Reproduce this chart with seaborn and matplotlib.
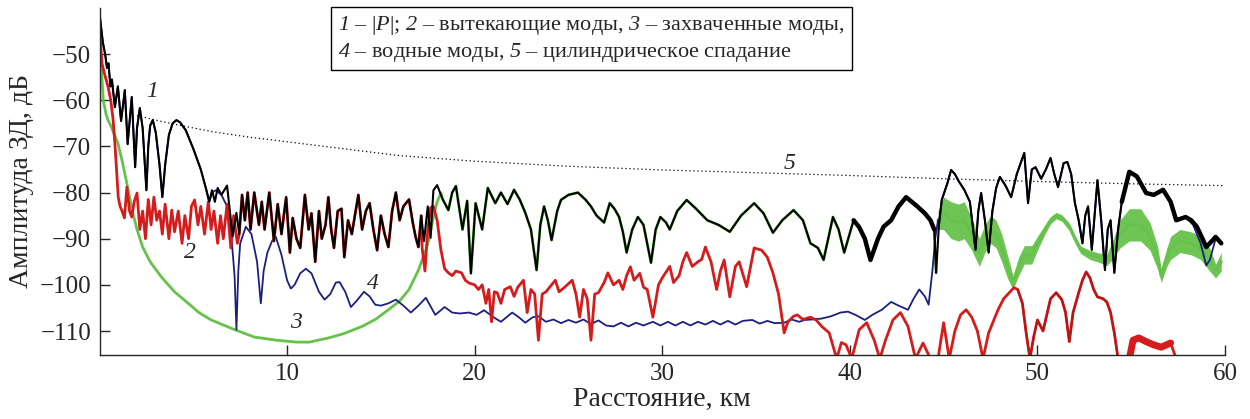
import numpy as np
import pandas as pd
import matplotlib
matplotlib.use("Agg")
import matplotlib.pyplot as plt
import seaborn as sns

# ---------------- data ----------------
# curve 1: |P| (black)
p_km = [0.0, 0.08, 0.18, 0.3, 0.4, 0.48, 0.58, 0.66, 0.82, 0.98, 1.15, 1.35, 1.5, 1.72, 1.9, 2.0, 2.15,
        2.3, 2.5, 2.6, 2.7, 2.84, 3.0, 3.2, 3.35, 3.5, 3.7, 3.9, 4.1, 4.3, 4.6, 5.0, 5.4, 5.7, 5.85,
        6.0, 6.15, 6.3, 6.5, 6.8, 6.95, 7.1, 7.3,
        7.45, 7.6, 7.75, 7.9, 8.05, 8.25, 8.5, 8.65, 8.8, 9.05, 9.3, 9.5, 9.7, 9.95, 10.15, 10.3, 10.5,
        10.7, 10.95, 11.15, 11.3, 11.5, 11.7, 11.85, 12.05, 12.2, 12.35, 12.5, 12.7, 12.9, 13.05, 13.25,
        13.45, 13.8, 14.0, 14.2, 14.4, 14.6, 14.8, 15.0, 15.2, 15.4, 15.6, 15.8, 16.0, 16.2, 16.5, 16.7,
        16.85, 17.0, 17.15, 17.3, 17.5, 17.65, 17.8, 18.0, 18.3, 18.6, 18.8, 19.0, 19.2, 19.35, 19.6,
        19.8, 20.05, 20.4, 20.7, 21.1, 21.4, 21.75, 22.1, 22.4, 22.7, 23.0, 23.3, 23.5, 23.7, 23.9, 24.1,
        24.4, 24.6, 25.0, 25.5, 25.9, 26.2, 26.5, 26.9, 27.2, 27.45, 27.7, 27.9, 28.1, 28.4, 28.7, 29.0,
        29.4, 29.65, 29.9, 30.2, 30.4, 30.8, 31.3, 31.8, 32.4, 33.0, 33.6, 34.2, 34.9, 35.4, 35.9, 36.4,
        37.0, 37.5, 37.9, 38.3, 38.6, 38.9, 39.1, 39.4, 39.7, 40.2, 40.5, 40.8, 41.1, 41.5, 41.8, 42.2,
        42.6, 43.0, 43.3, 43.6, 44.0, 44.3, 44.5, 44.6, 44.75, 44.9, 45.2, 45.4, 45.6, 45.8, 46.1, 46.4,
        46.7, 46.85, 47.0, 47.2, 47.4, 47.6, 47.8, 48.0, 48.3, 48.6, 48.9, 49.3, 49.5, 49.7, 49.9, 50.2,
        50.45, 50.7, 50.9, 51.1, 51.4, 51.6, 51.8, 52.0, 52.2, 52.4, 52.55, 52.7, 52.9, 53.2, 53.4, 53.6,
        53.75, 53.9, 54.1, 54.3, 54.5, 54.9, 55.3, 55.8, 56.2, 56.7, 57.1, 57.4, 57.9, 58.2, 58.5, 58.8,
        59.0, 59.3, 59.5, 59.8]
p_db = [-41, -44, -47.5, -50, -53, -52, -57, -55.5, -61.5, -57, -64.5, -57.8, -69.5, -59.3, -74.5, -66, -61.7,
        -66, -79.5, -70, -65.5, -64.3, -67, -74, -81, -74, -67.5, -65, -64.3, -64.8, -66.5, -70.5, -75, -79.5, -82,
        -79.5, -82, -79, -80.5, -78.5, -84, -89.5, -84.4,
        -89, -80.5, -86, -80, -88, -80, -87, -82, -88, -80, -90.5, -82.5, -89, -81, -93, -85.5, -90,
        -92, -80.5, -88, -84.5, -95, -84, -90, -87, -81, -88, -92, -84, -83.5, -94, -86,
        -89, -80.5, -88, -84, -82.3, -88, -92.5, -85, -89, -91.8, -84, -80, -86, -83, -81.5, -86.5,
        -89.6, -91.8, -85, -90.5, -83, -89.8, -79.5, -78.4, -81.5, -83.8, -80, -78.6, -84, -88, -81.8,
        -97.5, -82.3, -88, -79, -82.3, -80, -82.5, -79.4, -81.5, -84.4, -88, -96.8, -87, -83, -86, -90.3,
        -84, -81.6, -80.5, -80, -81.5, -83, -85, -86.5, -82.3, -83.5, -85.3, -88.5, -93, -88, -85.3, -87,
        -95.2, -88, -85.3, -86.5, -88, -84, -81.6, -83.5, -86, -87, -88.5, -85, -82.3, -84.5, -88.7, -86,
        -83.8, -86, -91, -92, -94.6, -89, -85.3, -88, -93, -86, -87.5, -90, -94.6, -90, -87.4, -86,
        -83, -81, -82, -83, -84.5, -86, -88, -97.4, -87, -81.6, -78, -75.1, -76, -77.5, -79.4, -82,
        -92.4, -84, -80.1, -86, -93, -84, -79, -76.6, -78.5, -81, -76, -71.4, -82.3, -75, -74.5, -77,
        -75, -72.5, -76, -78.8, -73.6, -73.4, -76, -82.3, -86, -91, -85, -83, -92.4, -77.3, -86, -96.8,
        -88, -86, -97.4, -88, -82, -75.5, -76.5, -80.1, -80.5, -79.4, -82, -86, -85.3, -86, -87.4, -90,
        -91.8, -90.5, -89.6, -91]

# curve 2: leaky modes (red) -- near field, and beyond 17.2 km (between they coincide with |P|)
leak_near_km = [0.0, 0.13, 0.25, 0.45, 0.6, 0.72, 0.82, 0.92, 1.0, 1.1, 1.2, 1.33, 1.46, 1.6, 1.72, 1.85,
                2.0, 2.15, 2.3, 2.45, 2.6, 2.75, 2.9, 3.05, 3.2, 3.35, 3.5, 3.7, 3.85, 4.0, 4.2, 4.4,
                4.55, 4.75, 4.9, 5.07, 5.25, 5.4, 5.6, 5.8, 5.95, 6.1, 6.3, 6.45, 6.6, 6.8, 7.0, 7.15, 7.35]
leak_near_db = [-44, -52, -54, -57, -60, -64, -69.3, -76, -81, -83, -84, -85.5, -78.8, -84, -85.3, -82,
                -80.1, -88, -84, -90, -81.5, -87, -81, -86, -84, -89, -82.5, -90, -83.8, -88.5, -84, -91,
                -85, -90, -83, -81.6, -87, -83, -89, -82, -88, -84, -91, -85, -90, -82.5, -92, -85, -91]
leak_far_km = [17.2, 17.35, 17.5, 17.65, 17.8, 18.0, 18.2, 18.4, 18.6, 18.8, 19.0, 19.3, 19.5, 19.7, 20.0,
               20.2, 20.4, 20.6, 20.75, 20.9, 21.05, 21.2, 21.4, 21.6, 21.9, 22.1, 22.3, 22.6, 22.8, 23.0,
               23.2, 23.4, 23.6, 23.8, 24.0, 24.3, 24.5, 24.8, 25.2, 25.4, 25.6, 25.8, 26.0, 26.2, 26.4,
               26.6, 26.9, 27.1, 27.4, 27.7, 27.9, 28.1, 28.3, 28.5, 28.8, 29.0, 29.2, 29.5, 29.8, 30.0,
               30.4, 30.6, 30.9, 31.1, 31.3, 31.6, 31.9, 32.1, 32.3, 32.6, 32.9, 33.1, 33.3, 33.6, 33.9,
               34.1, 34.5, 34.9, 35.3, 35.6, 35.9, 36.2, 36.5, 36.7, 37.0, 37.2, 37.5, 37.9, 38.2, 38.5,
               38.9, 39.3, 39.55, 39.8, 40.1, 40.5, 40.9, 41.3, 41.6, 41.9, 42.3, 42.7, 43.1, 43.5, 43.9,
               44.3, 44.7, 45.0, 45.3, 45.6, 45.9, 46.2, 46.5, 46.8, 47.1, 47.4, 47.9, 48.2, 48.5, 48.75,
               48.95, 49.2, 49.4, 49.6, 49.8, 50.0, 50.3, 50.7, 51.0, 51.3, 51.5, 51.7, 51.9, 52.2, 52.4,
               52.6, 52.8, 53.0, 53.2, 53.5, 53.7, 53.9, 54.1, 54.3, 54.9, 55.1, 55.4, 55.8, 56.2, 56.6,
               57.1, 57.4, 60.0]
leak_far_db = [-92, -97, -88, -83.3, -83, -86, -92.4, -96.5, -97.4, -98, -97, -97.4, -99, -99.6, -100,
               -101, -100, -104, -101, -108, -101.5, -101.7, -104, -101, -100.4, -102.5, -100.5, -99, -106, -101,
               -102, -112, -102, -101.5, -100.5, -99, -101.5, -100.5, -99, -102, -107, -101, -103, -112, -102,
               -101.7, -99.5, -97.4, -100, -99, -101, -98, -96.1, -99, -97.5, -100.5, -101, -107, -100, -98.5,
               -96, -99.5, -98, -95, -93, -96, -95, -94.5, -91.8, -95, -101, -97, -94.6, -102.6, -96,
               -95, -100.4, -92, -92.5, -94, -97.4, -102, -110.4, -108, -106.8, -106.5, -107.5, -107, -107.6, -109,
               -110.4, -116, -112.5, -113, -116, -109.7, -108.2, -112, -116, -112, -107.6, -106, -109, -116, -112.6,
               -116, -116, -108.2, -116, -110, -106.5, -105.4, -107, -110, -116, -110.4, -105.4, -103, -101.7, -100.6,
               -101, -104, -110.4, -116, -111.3, -107.6, -110, -103, -101.7, -103.2, -106, -112.3, -106, -101.7, -99,
               -97.2, -98.5, -101, -102.6, -103, -103.7, -106, -110.4, -116, -116, -112, -111.5, -112.3, -113, -113.5,
               -112.6, -116, -116]

# curve 3: trapped modes (green) -- near field; band (centre, half-width) beyond 44.7 km
trap_near_km = [0.0, 0.1, 0.2, 0.35, 0.45, 0.6, 0.8, 0.98, 1.2, 1.5, 1.75, 2.0, 2.3, 2.7, 3.3, 4.0, 4.7,
                5.3, 5.95, 7.2, 8.25, 9.45, 10.5, 11.2, 12.2, 13.0, 14.0, 14.7, 15.4, 16.0, 16.5, 17.0,
                17.4, 17.6, 17.8, 18.0, 18.2]
trap_near_db = [-47, -53, -60, -63, -64.3, -65.5, -67.5, -69.3, -73, -78.8, -84, -88, -91.8, -95, -98.3,
                -101.5, -103.9, -106, -107.6, -109.7, -111.3, -112, -112.4, -112.4, -111.5, -110.6, -109,
                -107.5, -105.4, -103.5, -101, -96.8, -92.4, -89.6, -85.3, -82, -80.1]
trap_far_km = [44.7, 45.0, 45.4, 45.8, 46.1, 46.5, 46.9, 47.2, 47.5, 47.8, 48.1, 48.4, 48.7, 49.0, 49.3,
               49.7, 50.0, 50.4, 50.7, 51.0, 51.3, 51.7, 52.0, 52.3, 52.8, 53.2, 53.7, 54.0, 54.4, 54.9,
               55.5, 56.0, 56.4, 56.6, 56.9, 57.1, 57.6, 58.2, 58.7, 59.2, 59.5, 59.8]
trap_far_db = [-86, -84.5, -86, -86.5, -86, -89, -93, -90, -88, -89, -92, -96, -99.5, -96, -93.5,
               -93.5, -91, -88, -86, -85, -85.5, -87.4, -90, -92.4, -93.5, -94, -94.6, -92.5, -89, -87,
               -87, -89.5, -94, -98, -94, -92, -90.5, -91, -92, -94.6, -97, -95]
trap_far_spread = [2, 3.5, 4, 4, 4, 3.5, 3, 3, 3, 3, 3, 2.5, 1.5, 2, 2,
                   2, 1.5, 1, 0.8, 0.7, 0.7, 0.8, 0.8, 0.8, 1, 1, 1.2, 2, 3, 3.5,
                   3.5, 3, 2.5, 1.5, 2, 2.5, 2.5, 2.5, 2.5, 2.5, 1.5, 2]

# curve 4: water modes (blue) -- between 6 and 44.7 km; elsewhere it follows |P|
water_km = [6.0, 6.2, 6.5, 6.8, 7.0, 7.2, 7.3, 7.4, 7.5, 7.8, 8.1, 8.4, 8.6, 8.75, 8.95, 9.2, 9.4, 9.7,
            10.0, 10.2, 10.4, 10.7, 11.0, 11.3, 11.7, 12.0, 12.3, 12.6, 12.8, 13.1, 13.4, 13.7, 14.1,
            14.4, 14.7, 15.0, 15.4, 15.8, 16.2, 16.6, 17.0, 17.4, 17.9, 18.4, 18.8, 19.2, 19.7, 20.1,
            20.5, 21.0, 21.4, 21.7, 22.0, 22.35, 22.7, 23.1, 23.4, 23.8, 24.2, 24.6, 25.0, 25.4, 25.8,
            26.2, 26.6, 27.0, 27.4, 27.8, 28.2, 28.6, 29.0, 29.5, 29.9, 30.3, 30.7, 31.1, 31.5, 31.9,
            32.3, 32.7, 33.1, 33.5, 33.9, 34.3, 34.8, 35.2, 35.6, 36.0, 36.5, 36.9, 37.3, 37.6, 38.0,
            38.5, 39.0, 39.5, 39.9, 40.3, 40.8, 41.2, 41.7, 42.2, 42.6, 43.1, 43.4, 43.7, 44.0, 44.2,
            44.4, 44.55, 44.7]
water_db = [-80, -79.5, -80.5, -83, -88, -98, -109.7, -97, -91, -87.4, -89, -95, -104, -97, -93, -90.5,
            -89.6, -93.5, -99, -100.8, -100, -97.5, -96.5, -97.5, -101.5, -103.2, -102, -99.5, -99.4, -101.5,
            -104.8, -103.5, -101.5, -102.5, -104.3, -104.5, -104, -103.2, -104.5, -106, -104.5, -102.8,
            -106.5, -104.8, -106, -106.2, -106, -106.5, -105.5, -107, -108, -107, -106, -107, -108.2, -107,
            -106.8, -108, -107.5, -108.3, -107.6, -108.2, -107.5, -108.5, -107.7, -108.8, -109, -108.2,
            -109, -108.2, -108.8, -108, -108.8, -108, -108.8, -108, -108.8, -108, -108.6, -107.8, -108.6,
            -107.8, -108.6, -107.8, -107.6, -108.4, -107.8, -108.3, -108.2, -107.5, -108, -107.6, -107.5,
            -107.3, -106.8, -106, -105.8, -106.5, -107.6, -106.5, -105.4, -103.7, -104.5, -105.4, -103, -101,
            -102.5, -104.3, -97, -90, -86]
water_end_km = [57.9, 58.3, 58.7, 59.0, 59.2, 59.5, 59.8]
water_end_db = [-85.3, -87, -91, -95.8, -94.5, -90, -91]

# curve 5: cylindrical spreading (dotted)
cyl_km = [2.0, 3, 4, 6, 8, 10, 13, 16, 20, 25, 30, 35, 40, 45, 50, 55, 60]
cyl_db = [-63.3, -64.3, -65.2, -66.8, -68, -69, -70.5, -72, -73.2, -74.3, -75.1, -75.7, -76.3, -77, -77.6, -78.1, -78.5]

x_ticks = [10, 20, 30, 40, 50, 60]
y_ticks = [-50, -60, -70, -80, -90, -100, -110]
curve_labels = ["1", "2", "3", "4", "5"]
label_km = [2.8, 4.8, 10.5, 14.6, 36.8]
label_db = [-58.2, -93.0, -108.2, -99.6, -73.8]

# ---------------- helpers ----------------
P_KM = np.array(p_km)
P_DB = np.array(p_db)


def part_of_p(lo, hi):
    m = (P_KM >= lo) & (P_KM <= hi)
    return list(P_KM[m]), list(P_DB[m])


def line(ax, xs, ys, **kw):
    df = pd.DataFrame({"km": xs, "db": ys})
    sns.lineplot(data=df, x="km", y="db", ax=ax, sort=False, estimator=None, legend=False, **kw)


# ---------------- style ----------------
sns.set_style("ticks")
plt.rcParams["font.family"] = ["Liberation Serif", "DejaVu Serif"]
plt.rcParams["mathtext.fontset"] = "custom"
plt.rcParams["mathtext.rm"] = "Liberation Serif:italic"
plt.rcParams["mathtext.it"] = "Liberation Serif:italic"

fig = plt.figure(figsize=(12.5, 4.19), dpi=100)
ax = fig.add_axes([0.0796, 0.1527, 0.9004, 0.8283])

GREEN = "#66c24a"
BLUE = "#1c1f7e"
RED = "#d41c1c"
DARKRED = "#b51616"

# green (trapped)
gx_mid, gy_mid = part_of_p(18.2, 44.7)
line(ax, trap_near_km + gx_mid, trap_near_db + gy_mid, color=GREEN, linewidth=2.0)
gc = np.array(trap_far_db)
gs = np.array(trap_far_spread)
ax.fill_between(trap_far_km, gc - gs, gc + gs, color=GREEN, linewidth=0, alpha=0.95)
line(ax, trap_far_km, trap_far_db, color=GREEN, linewidth=2.2)

# blue (water)
bx0, by0 = part_of_p(0.0, 5.9)
bx2, by2 = part_of_p(44.75, 57.8)
line(ax, bx0 + water_km + bx2 + water_end_km, by0 + water_db + by2 + water_end_db,
     color=BLUE, linewidth=1.3)

# red (leaky)
rx_mid, ry_mid = part_of_p(7.45, 17.15)
line(ax, leak_near_km + rx_mid + leak_far_km, leak_near_db + ry_mid + leak_far_db,
     color=RED, linewidth=2.0)
m_thick = [(k, d) for k, d in zip(leak_far_km, leak_far_db) if 54.9 <= k <= 57.1]
line(ax, [k for k, _ in m_thick], [d for _, d in m_thick], color=RED, linewidth=5)
m_dark = [(k, d) for k, d in zip(leak_far_km, leak_far_db) if 48.9 <= k <= 54.3]
line(ax, [k for k, _ in m_dark], [d for _, d in m_dark], color=DARKRED, linewidth=1.4)

# black (|P|)
line(ax, p_km, p_db, color="black", linewidth=1.5)
for lo, hi in [(40.2, 44.5), (54.5, 60.0)]:
    sx, sy = part_of_p(lo, hi)
    line(ax, sx, sy, color="black", linewidth=3.2)

# dotted cylindrical spreading
line(ax, cyl_km, cyl_db, color="black", linewidth=0.9, linestyle=(0, (1, 2.2)))

# curve numbers
for t, xk, yd in zip(curve_labels, label_km, label_db):
    ax.text(xk, yd, t, fontsize=17, fontstyle="italic", ha="center", va="center")

# axes
ax.set_xlim(0, 60)
ax.set_ylim(-115.2, -40)
ax.set_xticks(x_ticks)
ax.set_yticks(y_ticks)
ax.set_yticklabels([f"\u2212{abs(v)}" for v in y_ticks])
ax.tick_params(direction="in", length=7, width=1, labelsize=18, pad=6)
ax.set_xlabel("Расстояние, км", fontsize=20, labelpad=1)
ax.set_ylabel("Амплитуда ЗД, дБ", fontsize=20, labelpad=4)
sns.despine(ax=ax)
for s in ["left", "bottom"]:
    ax.spines[s].set_linewidth(1.0)

legend_text = ("$1$ – |$P$|; $2$ – вытекающие моды, $3$ – захваченные моды,\n"
               "$4$ – водные моды, $5$ – цилиндрическое спадание")
fig.text(0.2705, 0.908, legend_text, fontsize=16, ha="left", va="center", linespacing=1.25,
         bbox=dict(boxstyle="square,pad=0.3", facecolor="white", edgecolor="black", linewidth=1.0))

fig.savefig("out.png", dpi=100)
